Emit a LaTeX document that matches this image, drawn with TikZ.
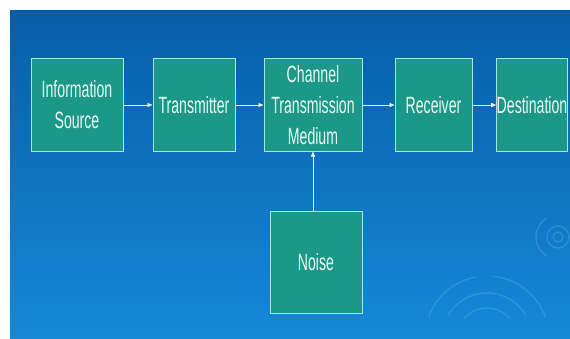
\documentclass[tikz,border=0pt]{standalone}
\usepackage{fontspec}
\setmainfont{Liberation Sans}[FakeStretch=0.6]
\usetikzlibrary{arrows.meta}
\definecolor{bgtop}{RGB}{6,94,168}
\definecolor{bgbot}{RGB}{22,136,216}
\definecolor{boxfill}{RGB}{28,152,136}
\definecolor{boxline}{RGB}{170,230,222}
\definecolor{txt}{RGB}{236,250,244}
\definecolor{ring}{RGB}{90,180,240}
\tikzset{
  blk/.style={draw=boxline, line width=1pt, fill=boxfill, text=txt,
    inner sep=0pt, align=center, font=\fontsize{23.5}{31}\selectfont},
  link/.style={draw=txt, line width=0.9pt, -{Triangle[length=5pt,width=4pt]}},
  deco/.style={draw=ring, line width=1.4pt, opacity=0.35}
}
\begin{document}
\begin{tikzpicture}[x=1pt,y=1pt]
\useasboundingbox (0,0) rectangle (570,338);
\fill[white] (0,0) rectangle (570,338);
\shade[top color=bgtop, bottom color=bgbot] (10,0) rectangle (570,327);
% faint decorative rings
\begin{scope}
\clip (10,0) rectangle (570,327);
\draw[deco] (487,0) ++(160:62) arc (160:100:62);
\draw[deco] (487,0) ++(85:62) arc (85:20:62);
\draw[deco] (487,0) ++(150:45) arc (150:30:45);
\draw[deco] (487,0) ++(140:30) arc (140:40:30);
\draw[deco] (558,101) circle (5);
\draw[deco] (558,101) circle (11);
\draw[deco] (558,101) ++(120:22) arc (120:240:22);
\end{scope}
\node[blk, minimum width=92pt, minimum height=92pt] (src) at (77,233) {Information\\Source};
\node[blk, minimum width=82pt, minimum height=92pt] (tx) at (194,233) {Transmitter};
\node[blk, minimum width=98pt, minimum height=92pt] (ch) at (313,233) {Channel\\Transmission\\Medium};
\node[blk, minimum width=77pt, minimum height=92pt] (rx) at (433.5,233) {Receiver};
\node[blk, minimum width=66pt, minimum height=92pt] (dst) at (532,233) {Destination};
\node[blk, minimum width=92pt, minimum height=102pt] (noise) at (316,76) {Noise};
\draw[link] (src) -- (tx);
\draw[link] (tx) -- (ch);
\draw[link] (ch) -- (rx);
\draw[link] (rx) -- (dst);
\draw[link] (noise.north -| ch.south) -- (ch.south);
\end{tikzpicture}
\end{document}
